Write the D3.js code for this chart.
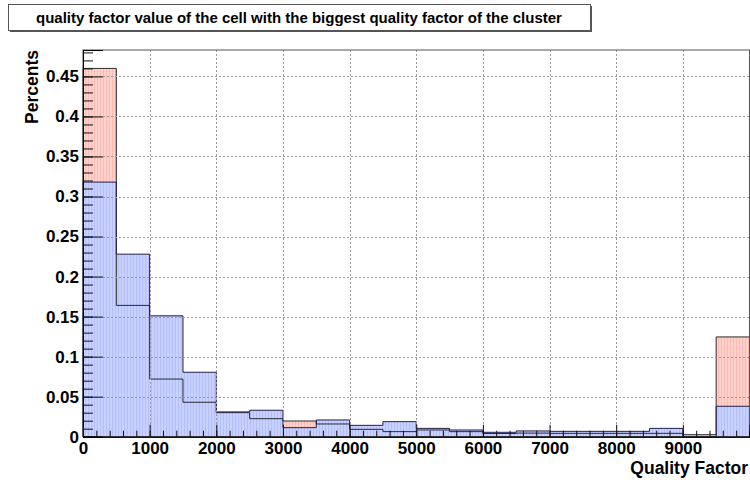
<!DOCTYPE html>
<html>
<head>
<meta charset="utf-8">
<script src="https://cdn.jsdelivr.net/npm/d3@7"></script>
<style>
  html, body { margin: 0; padding: 0; background: #fff; }
  svg { display: block; font-family: "Liberation Sans", Arial, Helvetica, sans-serif; }
</style>
</head>
<body>
<svg id="chart" width="750" height="480"></svg>
<script>
// Bin lower edges (width 500) of the quality factor histogram
const binStarts = [0, 500, 1000, 1500, 2000, 2500, 3000, 3500, 4000, 4500,
                   5000, 5500, 6000, 6500, 7000, 7500, 8000, 8500, 9000, 9500];
const binWidth = 500;

// Fraction of clusters per bin, two samples
const redValues = [0.460, 0.164, 0.072, 0.043, 0.030, 0.0225, 0.0196, 0.0159, 0.0092, 0.0063,
                   0.0084, 0.0063, 0.0040, 0.0045, 0.0042, 0.0042, 0.0042, 0.0042, 0.0025, 0.1246];
const blueValues = [0.318, 0.228, 0.151, 0.0805, 0.031, 0.033, 0.0113, 0.0209, 0.0142, 0.0188,
                    0.0104, 0.0084, 0.0055, 0.0072, 0.0067, 0.0067, 0.0067, 0.0104, 0.0, 0.038];

// Axis tick values and labels
const yMajorTicks = [0, 0.05, 0.1, 0.15, 0.2, 0.25, 0.3, 0.35, 0.4, 0.45];
const yTickLabels = ["0", "0.05", "0.1", "0.15", "0.2", "0.25", "0.3", "0.35", "0.4", "0.45"];
const xMajorTicks = [0, 1000, 2000, 3000, 4000, 5000, 6000, 7000, 8000, 9000];
const xTickLabels = ["0", "1000", "2000", "3000", "4000", "5000", "6000", "7000", "8000", "9000"];

const titleText = "quality factor value of the cell with the biggest quality factor of the cluster";
const xTitle = "Quality Factor";
const yTitle = "Percents";

const svg = d3.select("#chart");
const frame = { left: 83, right: 749.5, top: 50, bottom: 436.7 };

const xMax = 10000;
const yMax = d3.max(redValues.concat(blueValues)) * 1.05;

const x = d3.scaleLinear().domain([0, xMax]).range([frame.left, frame.right]);
const y = d3.scaleLinear().domain([0, yMax]).range([frame.bottom, frame.top]);

// Hatched fills
const defs = svg.append("defs");
function hatch(id, base, stripe) {
  const p = defs.append("pattern").attr("id", id)
    .attr("patternUnits", "userSpaceOnUse").attr("width", 3).attr("height", 6);
  p.append("rect").attr("width", 3).attr("height", 6).attr("fill", base);
  p.append("rect").attr("x", 1).attr("width", 1).attr("height", 6).attr("fill", stripe);
}
hatch("hatchRed", "#ffd2cc", "#ffb9b2");
hatch("hatchBlue", "#c9d1ff", "#b3beff");

function stepPoints(values) {
  const pts = [[0, 0]];
  values.forEach((v, i) => {
    pts.push([binStarts[i], v]);
    pts.push([binStarts[i] + binWidth, v]);
  });
  pts.push([xMax, 0]);
  return pts;
}
const line = d3.line().x(d => x(d[0])).y(d => y(d[1]));

const plot = svg.append("g");
plot.append("path").attr("d", line(stepPoints(redValues)) + "Z").attr("fill", "url(#hatchRed)");
plot.append("path").attr("d", line(stepPoints(blueValues)) + "Z").attr("fill", "url(#hatchBlue)");
plot.append("path").attr("d", line(stepPoints(redValues))).attr("fill", "none")
  .attr("stroke", "#2a2a2a").attr("stroke-width", 1);
plot.append("path").attr("d", line(stepPoints(blueValues))).attr("fill", "none")
  .attr("stroke", "#20204a").attr("stroke-width", 1);

// Dotted grid
const grid = svg.append("g").attr("stroke", "#999").attr("stroke-width", 1)
  .attr("stroke-dasharray", "2,2");
grid.selectAll("line.gx").data(xMajorTicks.filter(d => d > 0)).join("line")
  .attr("x1", d => Math.round(x(d)) + 0.5).attr("x2", d => Math.round(x(d)) + 0.5)
  .attr("y1", frame.top).attr("y2", frame.bottom);
grid.selectAll("line.gy").data(yMajorTicks.filter(d => d > 0)).join("line")
  .attr("x1", frame.left).attr("x2", frame.right)
  .attr("y1", d => Math.round(y(d)) + 0.5).attr("y2", d => Math.round(y(d)) + 0.5);

// Frame
svg.append("rect").attr("x", frame.left).attr("y", frame.top)
  .attr("width", frame.right - frame.left).attr("height", frame.bottom - frame.top)
  .attr("fill", "none").attr("stroke", "#555").attr("stroke-width", 1);

// Axes with inward ticks
const yMinor = d3.range(0, 49).map(i => i / 100).filter(v => v <= yMax);
const xMinor = d3.range(0, 51).map(i => i * 200);

const yAxisMinor = d3.axisLeft(y).tickValues(yMinor).tickSize(-10).tickFormat("");
const yAxis = d3.axisLeft(y).tickValues(yMajorTicks).tickSize(-20).tickPadding(4)
  .tickFormat((d, i) => yTickLabels[i]);
const xAxisMinor = d3.axisBottom(x).tickValues(xMinor).tickSize(-6).tickFormat("");
const xAxis = d3.axisBottom(x).tickValues(xMajorTicks).tickSize(-12).tickPadding(5)
  .tickFormat((d, i) => xTickLabels[i]);

function styleAxis(g) {
  g.select(".domain").attr("stroke", "#000");
  g.selectAll(".tick line").attr("stroke", "#111");
  g.selectAll(".tick text").attr("font-family", "'Liberation Sans', Arial, sans-serif")
    .attr("font-weight", "bold").attr("font-size", 17).attr("fill", "#000");
}
svg.append("g").attr("transform", `translate(${frame.left},0)`).call(yAxisMinor).call(styleAxis);
svg.append("g").attr("transform", `translate(${frame.left},0)`).call(yAxis).call(styleAxis);
svg.append("g").attr("transform", `translate(0,${frame.bottom})`).call(xAxisMinor).call(styleAxis);
svg.append("g").attr("transform", `translate(0,${frame.bottom})`).call(xAxis).call(styleAxis);

// Axis titles
svg.append("text").attr("x", 748).attr("y", 474).attr("text-anchor", "end")
  .attr("font-weight", "bold").attr("font-size", 17.5).text(xTitle);
svg.append("text").attr("transform", "translate(38,50) rotate(-90)").attr("text-anchor", "end")
  .attr("font-weight", "bold").attr("font-size", 17.5).text(yTitle);

// Title box with shadow
const tb = { x: 8, y: 4, w: 582, h: 26 };
svg.append("rect").attr("x", tb.x + 2).attr("y", tb.y + 2).attr("width", tb.w).attr("height", tb.h)
  .attr("fill", "#555");
svg.append("rect").attr("x", tb.x + 0.5).attr("y", tb.y + 0.5).attr("width", tb.w).attr("height", tb.h)
  .attr("fill", "#fff").attr("stroke", "#555").attr("stroke-width", 1);
svg.append("text").attr("x", tb.x + tb.w / 2).attr("y", tb.y + 19).attr("text-anchor", "middle")
  .attr("font-weight", "bold").attr("font-size", 15).text(titleText);
</script>
</body>
</html>
